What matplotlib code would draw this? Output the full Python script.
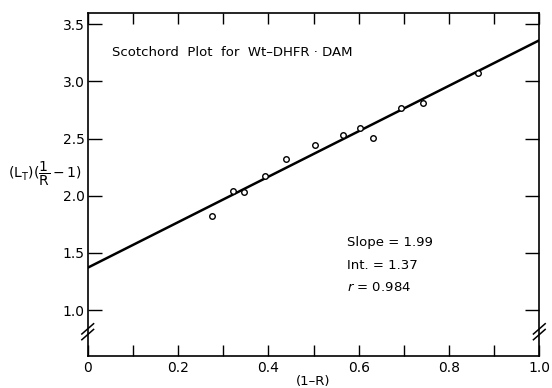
import numpy as np
import matplotlib
matplotlib.use("Agg")
import matplotlib.pyplot as plt

# data
one_minus_r = [0.275, 0.322, 0.347, 0.393, 0.438, 0.503, 0.566, 0.603, 0.631, 0.694, 0.743, 0.864]
scotchord_y = [1.822, 2.041, 2.035, 2.175, 2.321, 2.444, 2.531, 2.590, 2.507, 2.770, 2.808, 3.071]
slope = 1.99
intercept = 1.37
r_value = 0.984

xticks = [0, 0.2, 0.4, 0.6, 0.8, 1.0]
xtick_labels = ["0", "0.2", "0.4", "0.6", "0.8", "1.0"]
yticks = [1.0, 1.5, 2.0, 2.5, 3.0, 3.5]
ytick_labels = ["1.0", "1.5", "2.0", "2.5", "3.0", "3.5"]

fig = plt.figure(figsize=(5.52, 3.88), dpi=100)
ax = fig.add_axes([0.1589, 0.0832, 0.8181, 0.8825])

# fitted line
xl = np.array([0.0, 1.0])
ax.plot(xl, intercept + slope * xl, color="black", lw=1.8, solid_capstyle="butt")
ax.plot(one_minus_r, scotchord_y, "o", mfc="white", mec="black", ms=4, mew=1.0)

ax.set_xlim(0, 1.0)
ax.set_ylim(0.60, 3.596)

ax.set_xticks(xticks)
ax.set_xticklabels(xtick_labels)
ax.set_xticks(np.arange(0.1, 1.0, 0.2), minor=True)
ax.set_yticks(yticks)
ax.set_yticklabels(ytick_labels)

ax.tick_params(axis="both", which="both", direction="in", top=True, right=True,
               labelsize=10, width=1.0)
ax.tick_params(axis="y", which="major", length=10, pad=2)
ax.tick_params(axis="x", which="both", length=8, pad=4)
for s in ax.spines.values():
    s.set_linewidth(1.2)

# axis break marks (//)
for xb in (0.0, 1.0):
    for dy in (-0.025, 0.025):
        ax.plot([xb - 0.013, xb + 0.013], [0.81 + dy - 0.045, 0.81 + dy + 0.045],
                color="black", lw=1.1, clip_on=False)

ax.text(0.054, 3.257, "Scotchord  Plot  for  Wt–DHFR · DAM", fontsize=9.5, va="center", ha="left")
ax.text(0.575, 1.59, "Slope = %.2f" % slope, fontsize=9.5, va="center")
ax.text(0.575, 1.39, "Int. = %.2f" % intercept, fontsize=9.5, va="center")
ax.text(0.575, 1.20, r"$r$ = %.3f" % r_value, fontsize=9.5, va="center")

ax.set_xlabel("(1–R)", fontsize=9.5, labelpad=0)
fig.text(8 / 552, 1 - 174 / 388,
         r"$(\mathrm{L}_\mathrm{T})(\dfrac{\mathrm{1}}{\mathrm{R}}-\mathrm{1})$",
         fontsize=10, ha="left", va="center")

fig.savefig("out.png", dpi=100)
